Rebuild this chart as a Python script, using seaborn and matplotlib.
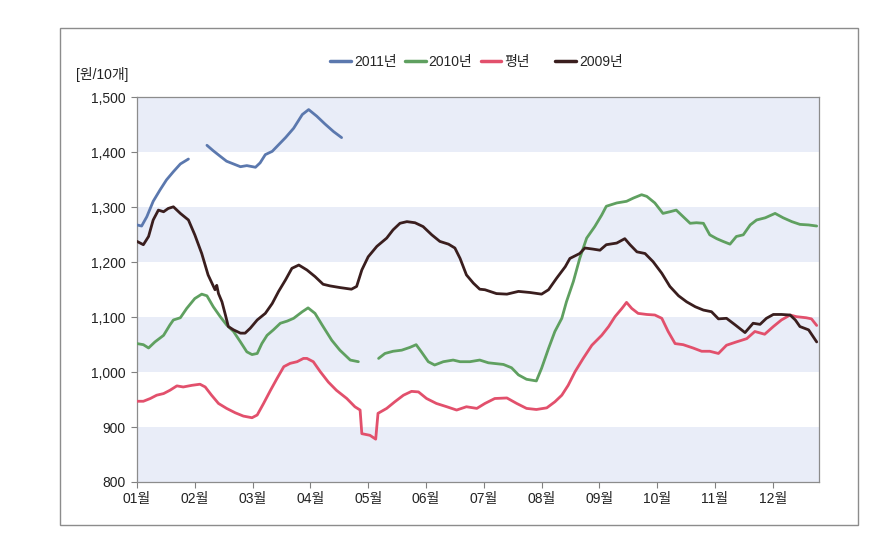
import numpy as np
import pandas as pd
import matplotlib
matplotlib.use('Agg')
import matplotlib.pyplot as plt
from matplotlib.lines import Line2D
from matplotlib.patches import Rectangle
import seaborn as sns

#---------------------------------------------------------
# x = months since 1 Jan (0 = 01월), y = 원/10개
m2011_a=[0.0, 0.08, 0.17, 0.28, 0.40, 0.51, 0.63, 0.75, 0.89]
v2011_a=[1268, 1266, 1283, 1311, 1332, 1350, 1365, 1379, 1388]
m2011_b=[1.21, 1.32, 1.44, 1.55, 1.67, 1.79, 1.90, 2.05, 2.13, 2.22, 2.34, 2.45, 2.57, 2.71, 2.86, 2.97, 3.11, 3.25, 3.40, 3.54]
v2011_b=[1413, 1403, 1393, 1384, 1379, 1374, 1376, 1373, 1381, 1396, 1402, 1414, 1427, 1444, 1469, 1478, 1466, 1452, 1438, 1427]

m2010_a=[0.0, 0.11, 0.20, 0.31, 0.46, 0.57, 0.63, 0.75, 0.86, 1.0, 1.12, 1.21, 1.32, 1.44, 1.55, 1.67, 1.79, 1.90, 1.99,
         2.08, 2.16, 2.25, 2.36, 2.48, 2.60, 2.71, 2.86, 2.96, 3.08, 3.22, 3.37, 3.51, 3.69, 3.83]
v2010_a=[1052, 1050, 1044, 1055, 1067, 1086, 1095, 1099, 1116, 1134, 1142, 1139, 1119, 1101, 1086, 1074, 1055, 1037, 1032,
         1034, 1052, 1067, 1077, 1089, 1093, 1098, 1110, 1117, 1107, 1083, 1058, 1040, 1022, 1019]
m2010_b=[4.18, 4.29, 4.43, 4.58, 4.72, 4.83, 4.92, 5.04, 5.15, 5.30, 5.47, 5.59, 5.76, 5.93, 6.08, 6.34, 6.48, 6.60, 6.74,
         6.91, 7.0, 7.12, 7.23, 7.35, 7.43, 7.55, 7.66, 7.78, 7.92, 8.04, 8.12, 8.30, 8.47, 8.59, 8.73, 8.82, 8.96,
         9.10, 9.22, 9.33, 9.45, 9.57, 9.68, 9.80, 9.91, 10.03, 10.14, 10.26, 10.37, 10.49, 10.61, 10.72, 10.87,
         11.04, 11.18, 11.33, 11.47, 11.62, 11.76]
v2010_b=[1025, 1034, 1038, 1040, 1045, 1050, 1037, 1019, 1013, 1019, 1022, 1019, 1019, 1022, 1017, 1014, 1008, 995, 987,
         984, 1007, 1043, 1074, 1098, 1128, 1165, 1207, 1244, 1265, 1286, 1302, 1308, 1311, 1317, 1323, 1320, 1308,
         1289, 1292, 1295, 1283, 1271, 1272, 1271, 1250, 1243, 1238, 1233, 1247, 1250, 1268, 1277, 1281,
         1289, 1281, 1274, 1269, 1268, 1266]

m_avg=[0.0, 0.11, 0.23, 0.34, 0.46, 0.57, 0.69, 0.80, 0.95, 1.09, 1.18, 1.29, 1.41, 1.55, 1.70, 1.84, 1.99, 2.08, 2.19,
       2.31, 2.42, 2.54, 2.65, 2.77, 2.88, 2.94, 3.05, 3.17, 3.31, 3.45, 3.63, 3.77, 3.86, 3.89, 4.03, 4.13, 4.17,
       4.32, 4.46, 4.61, 4.75, 4.87, 5.01, 5.18, 5.36, 5.53, 5.70, 5.88, 6.02, 6.19, 6.40, 6.57, 6.74, 6.91, 7.09,
       7.23, 7.35, 7.46, 7.58, 7.72, 7.87, 8.04, 8.16, 8.27, 8.39, 8.47, 8.56, 8.67, 8.82, 8.96, 9.08, 9.19, 9.31,
       9.45, 9.62, 9.77, 9.91, 10.06, 10.20, 10.37, 10.55, 10.69, 10.86, 11.01, 11.15, 11.30, 11.41, 11.58, 11.67, 11.76]
v_avg=[947, 947, 952, 958, 961, 967, 975, 973, 976, 978, 973, 958, 943, 934, 926, 920, 917, 922, 943,
       967, 988, 1010, 1016, 1019, 1025, 1025, 1019, 1001, 982, 967, 952, 937, 931, 888, 885, 878, 925,
       934, 946, 958, 965, 964, 952, 943, 937, 931, 937, 934, 943, 952, 953, 943, 934, 932, 935,
       946, 958, 976, 1001, 1025, 1049, 1067, 1083, 1101, 1116, 1127, 1116, 1107, 1105, 1104, 1098, 1074, 1052,
       1050, 1044, 1038, 1038, 1034, 1049, 1055, 1061, 1074, 1069, 1083, 1095, 1104, 1101, 1099, 1097, 1085]

m2009=[0.0, 0.11, 0.20, 0.28, 0.37, 0.46, 0.54, 0.63, 0.75, 0.89, 1.0, 1.12, 1.23, 1.35, 1.38, 1.41, 1.47, 1.53, 1.58,
       1.67, 1.79, 1.87, 1.96, 2.08, 2.22, 2.34, 2.45, 2.57, 2.68, 2.80, 2.94, 3.08, 3.22, 3.34, 3.51, 3.71, 3.80,
       3.89, 4.0, 4.15, 4.32, 4.43, 4.55, 4.67, 4.81, 4.95, 5.10, 5.24, 5.39, 5.50, 5.59, 5.70, 5.82, 5.93, 6.02,
       6.22, 6.40, 6.60, 6.80, 7.0, 7.12, 7.26, 7.41, 7.49, 7.66, 7.75, 7.89, 8.01, 8.12, 8.30, 8.44, 8.53, 8.65,
       8.79, 8.93, 9.08, 9.22, 9.37, 9.51, 9.66, 9.80, 9.94, 10.06, 10.20, 10.35, 10.52, 10.66, 10.78, 10.89,
       11.01, 11.15, 11.30, 11.39, 11.47, 11.62, 11.76]
v2009=[1238, 1232, 1247, 1277, 1295, 1292, 1298, 1301, 1289, 1277, 1250, 1216, 1177, 1150, 1158, 1143, 1128, 1104, 1083,
       1077, 1071, 1071, 1080, 1095, 1107, 1125, 1147, 1168, 1189, 1195, 1186, 1174, 1160, 1157, 1154, 1151, 1156,
       1186, 1210, 1229, 1244, 1259, 1271, 1274, 1272, 1265, 1250, 1238, 1233, 1226, 1207, 1177, 1162, 1151, 1150,
       1143, 1142, 1147, 1145, 1142, 1150, 1171, 1192, 1207, 1216, 1226, 1224, 1222, 1232, 1235, 1243, 1232, 1219,
       1216, 1201, 1180, 1156, 1139, 1128, 1119, 1113, 1110, 1097, 1098, 1086, 1072, 1089, 1087, 1098,
       1105, 1105, 1104, 1095, 1083, 1077, 1055]

month_lbls=['01월', '02월', '03월', '04월', '05월', '06월', '07월', '08월', '09월', '10월', '11월', '12월']
series_order=['2011년', '2010년', '평년', '2009년']
colors={'2011년': '#5B78AE', '2010년': '#5FA060', '평년': '#E2506C', '2009년': '#3A1E1E'}

#--------------------------------------------------------
def seg(m, v, name, sid):
	return pd.DataFrame({'month': m, 'price': v, 'series': name, 'seg': sid})

df=pd.concat([
	seg(m_avg, v_avg, '평년', 0),
	seg(m2010_a, v2010_a, '2010년', 1),
	seg(m2010_b, v2010_b, '2010년', 2),
	seg(m2009, v2009, '2009년', 3),
	seg(m2011_a, v2011_a, '2011년', 4),
	seg(m2011_b, v2011_b, '2011년', 5),
], ignore_index=True)

#--------------------------------------------------------
sns.set_style('white')
plt.rcParams['font.family']=['Liberation Sans', 'Noto Sans CJK KR', 'DejaVu Sans']

fig=plt.figure(figsize=(8.96, 5.34), dpi=100)
ax=fig.add_axes([137/896, 1-482/534, (819-137)/896, (482-97.5)/534])

# banded background
for lo in [800, 1000, 1200, 1400]:
	ax.axhspan(lo, lo+100, color='#E9EDF8', lw=0, zorder=0)

sns.lineplot(data=df, x='month', y='price', hue='series', units='seg', estimator=None,
	palette=colors, linewidth=2.0, legend=False, ax=ax, zorder=3)

ax.set_xlim(0, 11.8)
ax.set_ylim(800, 1500)
ax.set_xticks(range(12))
ax.set_xticklabels(month_lbls)
ax.set_yticks(range(800, 1501, 100))
ax.set_yticklabels([f'{t:,}' for t in range(800, 1501, 100)])
ax.set_xlabel('')
ax.set_ylabel('')
ax.tick_params(axis='both', which='major', direction='out', length=4, width=0.8, color='#808080',
	labelsize=10, labelcolor='#222222', bottom=True, left=True)
ax.tick_params(axis='y', pad=4)
ax.tick_params(axis='x', pad=3)
for s in ax.spines.values():
	s.set_color('#8C8C8C')
	s.set_linewidth(0.9)

# unit label
fig.text(102/896, 1-74/534, '[원/10개]', ha='center', va='center', fontsize=10, color='#222222')

# legend (two groups, as in the original)
h=[Line2D([], [], color=colors[s], lw=2.5) for s in series_order]
fig.legend(h[:3], series_order[:3], loc='center', bbox_to_anchor=(430/896, 1-62/534), ncol=3,
	frameon=False, fontsize=10, handlelength=1.5, handletextpad=0.2, columnspacing=0.6)
fig.legend(h[3:], series_order[3:], loc='center', bbox_to_anchor=(589/896, 1-62/534), ncol=1,
	frameon=False, fontsize=10, handlelength=1.5, handletextpad=0.2)

# outer frame
fig.patches.append(Rectangle((60/896, 1-525/534), (858-60)/896, (525-28)/534, transform=fig.transFigure,
	fill=False, edgecolor='#8C8C8C', lw=1.0))

plt.savefig('out.png', dpi=100)
plt.close()
